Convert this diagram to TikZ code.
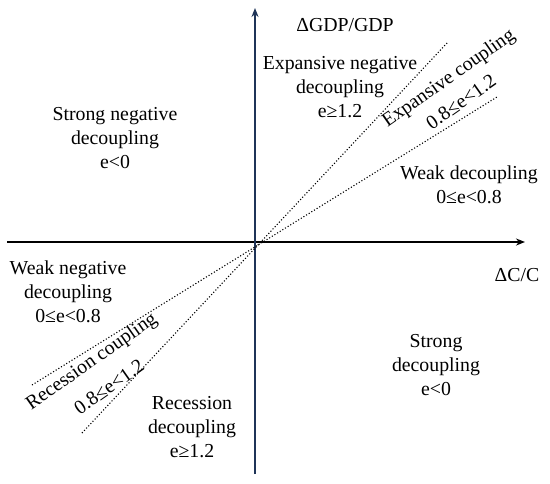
\documentclass[tikz,border=0pt]{standalone}
\usepackage{fontspec}
\setmainfont{Liberation Serif}
\usetikzlibrary{arrows.meta}
\definecolor{navy}{RGB}{31,52,88}
\tikzset{
  lbl/.style={font=\fontsize{19.8}{24}\selectfont, align=center, inner sep=0pt},
  axis/.style={line width=1.6pt, -{Stealth[length=9pt,width=7pt]}},
  guide/.style={line width=1.1pt, dotted}
}
\begin{document}
\begin{tikzpicture}[x=1pt,y=-1pt]
\useasboundingbox (0,0) rectangle (550,483);
% axes
\coordinate (xl) at (7,242);
\coordinate (xr) at (525,242);
\coordinate (yb) at (255,474);
\coordinate (yt) at (255,8);
\draw[axis, black] (xl) -- (xr);
\draw[axis, navy] (yb) -- (yt);
% dotted lines
\coordinate (s1) at (82,433);
\coordinate (s2) at (448,42);
\coordinate (f1) at (32,385);
\coordinate (f2) at (497,97);
\draw[guide] (s1) -- (s2);
\draw[guide] (f1) -- (f2);
% labels
\node[lbl] (gdp) at (345,25) {ΔGDP/GDP};
\node[lbl] (cc) at (517,275) {ΔC/C};
\node[lbl] (end) at (340,87) {Expansive negative\\decoupling\\e≥1.2};
\node[lbl, rotate=35] (ec) at (449,79) {Expansive coupling};
\node[lbl, rotate=35] (ecv) at (461,102) {0.8≤e<1.2};
\node[lbl] (wd) at (469,185) {Weak decoupling\\0≤e<0.8};
\node[lbl] (snd) at (115,138) {Strong negative\\decoupling\\e<0};
\node[lbl] (wnd) at (68,292) {Weak negative\\decoupling\\0≤e<0.8};
\node[lbl, rotate=35] (rc) at (92,362) {Recession coupling};
\node[lbl, rotate=35] (rcv) at (109,387) {0.8≤e<1.2};
\node[lbl] (rd) at (192,427) {Recession\\decoupling\\e≥1.2};
\node[lbl] (sd) at (436,365) {Strong\\decoupling\\e<0};
\end{tikzpicture}
\end{document}
